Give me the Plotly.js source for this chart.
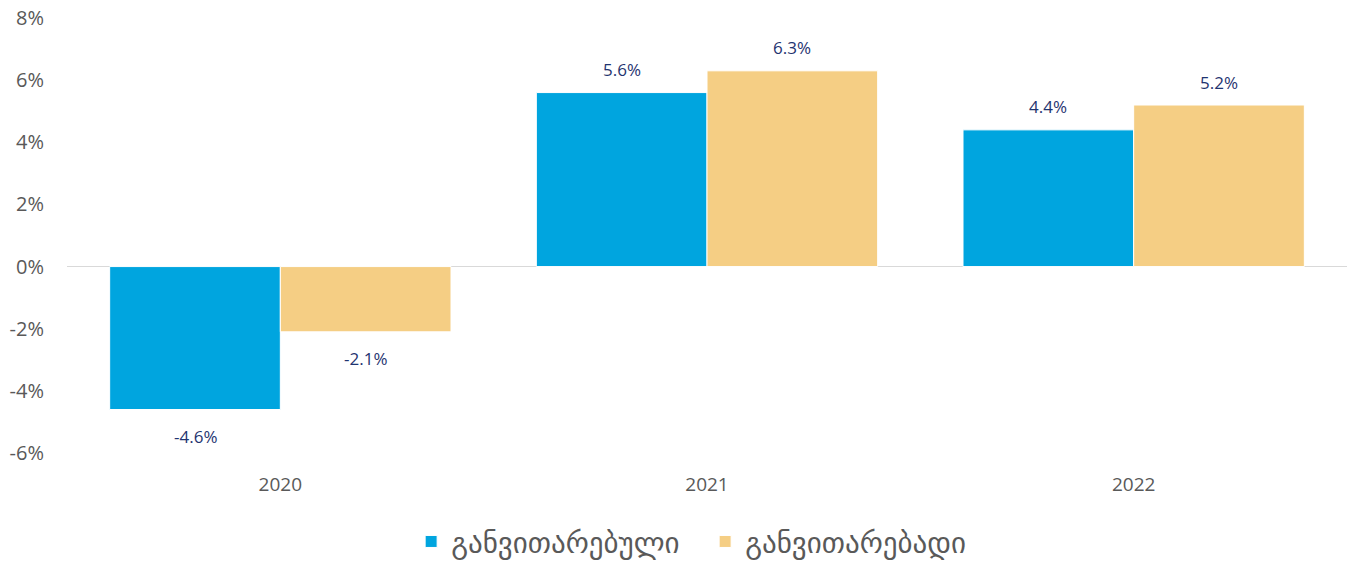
<!DOCTYPE html>
<html>
<head>
<meta charset="utf-8">
<script src="https://cdn.plot.ly/plotly-3.0.1.min.js"></script>
<style>html,body{margin:0;padding:0;background:#fff;}#chart{width:1348px;height:563px;}</style>
</head>
<body>
<div id="chart"></div>
<script>
const years = ['2020', '2021', '2022'];
const developed = [-4.6, 5.6, 4.4];
const developing = [-2.1, 6.3, 5.2];
const seriesNames = ['განვითარებული', 'განვითარებადი'];
const yTicks = [-6, -4, -2, 0, 2, 4, 6, 8];

const fontFam = '"Open Sans", sans-serif';
const geoFam = '"DejaVu Sans", "Noto Sans", sans-serif';
const labelColor = '#1F3470';

function mk(vals, name, color) {
  return {
    type: 'bar', x: years, y: vals, name: name,
    marker: {color: color, line: {color: '#ffffff', width: 1}},
    hoverinfo: 'none'
  };
}

const data = [mk(developed, seriesNames[0], '#00A5DF'), mk(developing, seriesNames[1], '#F5CE84')];

const annotations = [];
[developed, developing].forEach((vals, si) => {
  vals.forEach((v, i) => {
    annotations.push({
      x: i + (si === 0 ? -0.2 : 0.2), xref: 'x', y: v, yref: 'y',
      text: v.toFixed(1) + '%', showarrow: false,
      yanchor: 'middle', yshift: v >= 0 ? 23 : -27,
      font: {family: fontFam, size: 17, color: labelColor}
    });
  });
});

const layout = {
  width: 1348, height: 563,
  margin: {l: 67, r: 1, t: 18, b: 110},
  paper_bgcolor: '#ffffff', plot_bgcolor: '#ffffff',
  barmode: 'group', bargap: 0.2, bargroupgap: 0,
  showlegend: true,
  legend: {orientation: 'h', x: 0.305, xref: 'container', xanchor: 'left',
           y: 0.038, yref: 'container', yanchor: 'middle',
           entrywidth: 249, entrywidthmode: 'pixels',
           font: {family: geoFam, size: 29, color: '#595959'}, itemwidth: 30, traceorder: 'normal'},
  annotations: annotations,
  xaxis: {type: 'category', showgrid: false, showline: false, zeroline: false,
          ticks: 'outside', ticklen: 14, tickcolor: 'rgba(0,0,0,0)',
          tickfont: {family: fontFam, size: 19, color: '#595959'}},
  yaxis: {range: [-6, 8], tickvals: yTicks, ticktext: yTicks.map(v => v + '%'),
          showgrid: false, showline: false,
          zeroline: true, zerolinecolor: '#D9D9D9', zerolinewidth: 1.5,
          ticks: 'outside', ticklen: 18, tickcolor: 'rgba(0,0,0,0)',
          tickfont: {family: fontFam, size: 20, color: '#595959'}},
  font: {family: fontFam}
};

Plotly.newPlot('chart', data, layout, {displayModeBar: false, staticPlot: true});
</script>
</body>
</html>
